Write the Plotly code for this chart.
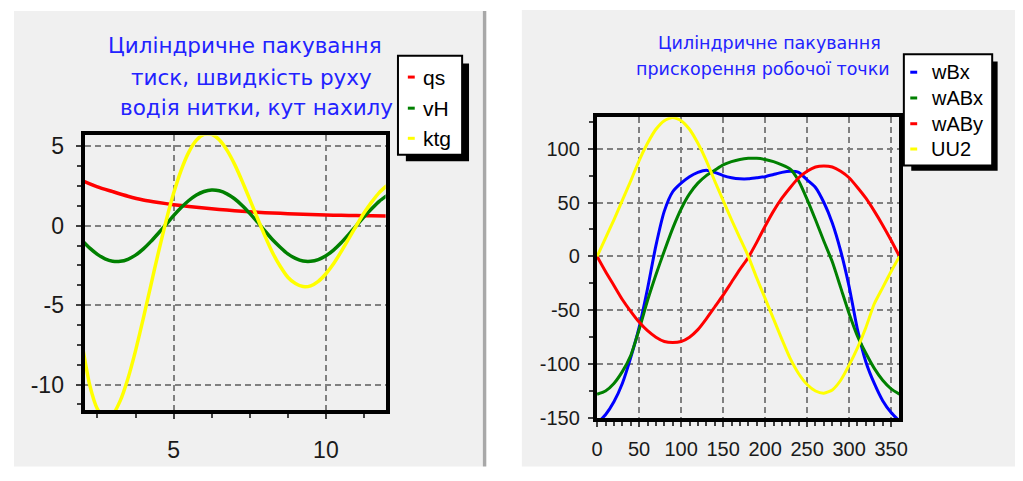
import plotly.graph_objects as go

W, H = 1023, 481
OFF = 8  # default page margin of the html body
FW, FH = W - 2 * OFF, H - 2 * OFF

# ---------------- Left chart data ----------------
x_left = [2.0, 2.25, 2.5, 2.75, 3.0, 3.25, 3.5, 3.75, 4.0, 4.25, 4.5, 4.75, 5.0, 5.25,
          5.5, 5.75, 6.0, 6.25, 6.5, 6.75, 7.0, 7.25, 7.5, 7.75, 8.0, 8.25, 8.5, 8.75,
          9.0, 9.25, 9.5, 9.75, 10.0, 10.25, 10.5, 10.75, 11.0, 11.25, 11.5, 11.75, 12.0]
vH = [-0.94, -1.41, -1.80, -2.08, -2.23, -2.24, -2.11, -1.85, -1.47, -1.00, -0.47, 0.08,
      0.64, 1.15, 1.59, 1.94, 2.16, 2.25, 2.20, 2.01, 1.70, 1.28, 0.78, 0.24, -0.33, -0.88,
      -1.35, -1.77, -2.05, -2.22, -2.24, -2.13, -1.89, -1.53, -1.07, -0.54, 0.01, 0.56,
      1.07, 1.54, 1.90]
ktg = [-7.49, -10.05, -11.54, -12.10, -11.88, -11.01, -9.63, -7.88, -5.88, -3.78, -1.69,
       0.28, 2.04, 3.51, 4.64, 5.39, 5.76, 5.76, 5.41, 4.76, 3.88, 2.81, 1.66, 0.49, -0.65,
       -1.70, -2.55, -3.24, -3.64, -3.83, -3.78, -3.50, -3.02, -2.39, -1.63, -0.81, 0.01,
       0.80, 1.49, 2.09, 2.53]
x_qs = [2.0, 2.5, 3.0, 3.5, 4.0, 4.5, 5.0, 5.5, 6.0, 6.5, 7.0, 7.5, 8.0, 8.5, 9.0, 9.5,
        10.0, 10.5, 11.0, 11.5, 12.0]
qs = [2.85, 2.45, 2.15, 1.86, 1.62, 1.46, 1.33, 1.22, 1.12, 1.03, 0.95, 0.88, 0.82, 0.78,
      0.74, 0.71, 0.68, 0.66, 0.64, 0.63, 0.62]

left_xticks = [5, 10]
left_xtick_text = ["5", "10"]
left_xminor = [2.5, 3.75, 6.25, 7.5, 8.75, 11.25]
left_yticks = [-10, -5, 0, 5]
left_ytick_text = ["-10", "-5", "0", "5"]
left_yminor = [-11.25, -8.75, -7.5, -6.25, -3.75, -2.5, -1.25, 1.25, 2.5, 3.75]
left_title = ["Циліндричне пакування", "тиск, швидкість руху", "водія нитки, кут нахилу"]
left_names = ["qs", "vH", "ktg"]

# ---------------- Right chart data ----------------
angle = [0, 10, 20, 30, 40, 50, 60, 70, 80, 90, 100, 110, 120, 130, 140, 150, 160, 170, 180,
         190, 200, 210, 220, 230, 240, 250, 260, 270, 280, 290, 300, 310, 320, 330, 340, 350, 360]
wBx = [-155, -147, -135, -118, -94, -66, -30, 10, 42, 60, 68, 74, 78, 80, 78, 75, 73, 72, 72,
       73, 74, 76, 78, 79, 78, 71, 64, 50, 31, 5, -28, -68, -98, -118, -134, -145, -153]
wABx = [-128, -125, -118, -107, -92, -68, -41, -17, 5, 26, 44, 58, 68, 75, 80, 85, 88, 90, 91,
        91, 90, 88, 85, 81, 70, 53, 34, 14, -5, -29, -53, -74, -90, -104, -115, -123, -128]
wABy = [0, -14, -27, -40, -51, -61, -69, -75, -79, -80, -79, -75, -68, -58, -47, -36, -24, -12, -1,
        13, 28, 42, 54, 64, 73, 79, 83, 84, 83, 79, 73, 64, 54, 42, 29, 15, 0]
UU2 = [0, 17, 34, 52, 70, 89, 105, 118, 126, 129, 126, 118, 105, 89, 70, 52, 34, 17, 0,
       -20, -39, -58, -77, -95, -109, -119, -125, -127, -124, -115, -101, -85, -66, -44, -29, -14, 0]

right_xticks = [0, 50, 100, 150, 200, 250, 300, 350]
right_xtick_text = ["0", "50", "100", "150", "200", "250", "300", "350"]
right_xminor = [10, 20, 30, 40, 60, 70, 80, 90, 110, 120, 130, 140, 160, 170, 180, 190,
                210, 220, 230, 240, 260, 270, 280, 290, 310, 320, 330, 340, 360]
right_yticks = [-150, -100, -50, 0, 50, 100]
right_ytick_text = ["-150", "-100", "-50", "0", "50", "100"]
right_yminor = [-125, -75, -25, 25, 75, 125]
right_title = ["Циліндричне пакування", "прискорення робочої точки"]
right_names = ["wBx", "wABx", "wABy", "UU2"]

RED, GREEN, YELLOW, BLUE = "#ff0000", "#008000", "#ffff00", "#0000ff"
left_colors = [RED, GREEN, YELLOW]
right_colors = [BLUE, GREEN, RED, YELLOW]
PANEL = "#f0f0f0"
TITLE_C = "#2222ff"


def px(x):
    return (x - OFF) / FW


def py(y):
    return 1 - (y - OFF) / FH


fig = go.Figure()

for xs, ys, name, col in [(x_qs, qs, left_names[0], RED), (x_left, vH, left_names[1], GREEN),
                          (x_left, ktg, left_names[2], YELLOW)]:
    fig.add_trace(go.Scatter(x=xs, y=ys, name=name, mode="lines", showlegend=False,
                             line=dict(color=col, width=3.5, shape="spline", smoothing=0.6),
                             xaxis="x", yaxis="y"))

for ys, name, col in zip([wBx, wABx, wABy, UU2], right_names, right_colors):
    fig.add_trace(go.Scatter(x=angle, y=ys, name=name, mode="lines", showlegend=False,
                             line=dict(color=col, width=3, shape="spline", smoothing=0.6),
                             xaxis="x2", yaxis="y2"))

grid = dict(showgrid=True, gridcolor="#808080", gridwidth=1.5, griddash="6px,4px",
            showline=True, linecolor="black", linewidth=4, mirror=True, zeroline=False,
            ticks="outside", tickcolor="#404040", tickwidth=1.5)
tf_left = dict(family="Liberation Sans, Arial", size=23, color="#1a1a1a")
tf_right = dict(family="Liberation Sans, Arial", size=20, color="#1a1a1a")

fig.update_layout(
    width=FW, height=FH, margin=dict(l=0, r=0, t=0, b=0),
    paper_bgcolor="white", plot_bgcolor=PANEL, showlegend=False,
    xaxis=dict(domain=[px(80.5), px(385.5)], range=[2.078, 11.96], anchor="y",
               tickmode="array", tickvals=left_xticks, ticktext=left_xtick_text, ticklen=5,
               tickfont=tf_left, ticklabelstandoff=11,
               minor=dict(tickvals=left_xminor, ticks="outside", ticklen=4, tickcolor="#404040",
                          showgrid=False), **grid),
    yaxis=dict(domain=[py(420), py(137)], range=[-11.63, 5.69], anchor="x",
               tickmode="array", tickvals=left_yticks, ticktext=left_ytick_text, ticklen=5,
               tickfont=tf_left, ticklabelstandoff=7,
               minor=dict(tickvals=left_yminor, ticks="outside", ticklen=4, tickcolor="#404040",
                          showgrid=False), **grid),
    xaxis2=dict(domain=[px(599.5), px(906)], range=[-0.3, 359.9], anchor="y2",
                tickmode="array", tickvals=right_xticks, ticktext=right_xtick_text, ticklen=5,
                tickfont=tf_right, ticklabelstandoff=5,
                minor=dict(tickvals=right_xminor, ticks="outside", ticklen=4, tickcolor="#404040",
                           showgrid=False), **grid),
    yaxis2=dict(domain=[py(428), py(118.3)], range=[-150.3, 129.2], anchor="x2",
                tickmode="array", tickvals=right_yticks, ticktext=right_ytick_text, ticklen=5,
                tickfont=tf_right, ticklabelstandoff=4,
                minor=dict(tickvals=right_yminor, ticks="outside", ticklen=4, tickcolor="#404040",
                           showgrid=False), **grid),
)

shapes = []
shapes.append(dict(type="rect", xref="paper", yref="paper", x0=px(9), x1=px(484), y0=-0.01, y1=py(9),
                   fillcolor=PANEL, line=dict(width=0), layer="below"))
shapes.append(dict(type="rect", xref="paper", yref="paper", x0=px(484), x1=px(487.5), y0=-0.01, y1=py(9),
                   fillcolor="#a8a8a8", line=dict(width=0), layer="below"))
shapes.append(dict(type="rect", xref="paper", yref="paper", x0=px(523.5), x1=1.01, y0=-0.01, y1=py(8),
                   fillcolor=PANEL, line=dict(width=0), layer="below"))

annotations = []

for txt, cx, cy in zip(left_title, [243.5, 249.5, 254.5], [45, 77, 108]):
    annotations.append(dict(text=txt, x=px(cx), y=py(cy), xref="paper", yref="paper",
                            xanchor="center", yanchor="middle", showarrow=False,
                            font=dict(family="DejaVu Sans", size=21.5, color=TITLE_C)))
for txt, cx, cy in zip(right_title, [774, 767.5], [41.7, 68.3]):
    annotations.append(dict(text=txt, x=px(cx), y=py(cy), xref="paper", yref="paper",
                            xanchor="center", yanchor="middle", showarrow=False,
                            font=dict(family="DejaVu Sans", size=17.5, color=TITLE_C)))


def legend(box, shadow, names, colors, ys, dash_x, text_x, fsize):
    x0, y0, x1, y1 = shadow
    shapes.append(dict(type="rect", xref="paper", yref="paper", x0=px(x0), x1=px(x1), y0=py(y1), y1=py(y0),
                       fillcolor="black", line=dict(width=0), layer="above"))
    x0, y0, x1, y1 = box
    shapes.append(dict(type="rect", xref="paper", yref="paper", x0=px(x0), x1=px(x1), y0=py(y1), y1=py(y0),
                       fillcolor="white", line=dict(color="black", width=2), layer="above"))
    for n, c, yy in zip(names, colors, ys):
        shapes.append(dict(type="line", xref="paper", yref="paper", x0=px(dash_x[0]), x1=px(dash_x[1]),
                           y0=py(yy), y1=py(yy), line=dict(color=c, width=3), layer="above"))
        annotations.append(dict(text=n, x=px(text_x), y=py(yy), xref="paper", yref="paper",
                                xanchor="left", yanchor="middle", showarrow=False,
                                font=dict(family="Liberation Sans, Arial", size=fsize, color="black")))


legend((398, 55, 463, 157), (406, 63, 470, 163.5), left_names, left_colors, [77, 109, 140],
       (408, 415), 421, 21)
legend((910.5, 53.5, 1000, 168), (918, 61, 1005.5, 173.5), right_names, right_colors,
       [72, 98.5, 125, 151], (917, 924), 936, 20)

fig.update_layout(shapes=shapes, annotations=annotations)
fig.write_html("out.html", config={"displayModeBar": False})
